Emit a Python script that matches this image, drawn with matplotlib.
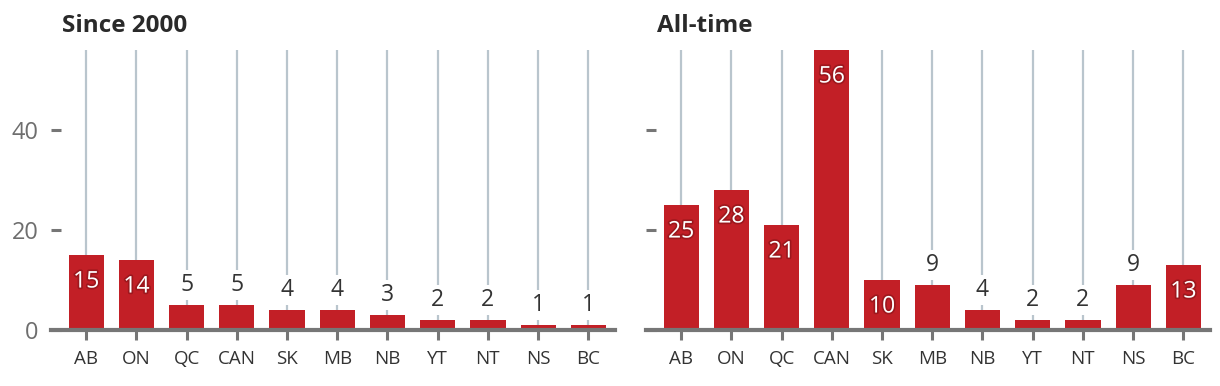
import matplotlib
matplotlib.use('Agg')
import matplotlib.pyplot as plt
import matplotlib.patheffects as pe
import numpy as np

plt.rcParams['font.family'] = ['Open Sans', 'DejaVu Sans']

categories = ['AB', 'ON', 'QC', 'CAN', 'SK', 'MB', 'NB', 'YT', 'NT', 'NS', 'BC']
since_2000 = [15, 14, 5, 5, 4, 4, 3, 2, 2, 1, 1]
all_time = [25, 28, 21, 56, 10, 9, 4, 2, 2, 9, 13]
titles = ['Since 2000', 'All-time']
yticks = [0, 20, 40]

BAR = '#c21f26'
GRID = '#b9c5cd'
AXIS = '#767676'
DARK = '#333333'

W, H = 1220, 386
fig = plt.figure(figsize=(W / 100, H / 100), dpi=100)
ax1 = fig.add_axes([51 / W, 56 / H, 564 / W, 280 / H])
ax2 = fig.add_axes([646 / W, 56 / H, 564 / W, 280 / H])


def draw(ax, values, title, show_labels):
    x = np.arange(len(categories))
    ax.set_xlim(-0.7, 10.53)
    ax.set_ylim(0, 56)
    # grid lines behind the bars
    ax.vlines(x, 0, 56, color=GRID, lw=1.6, zorder=0)
    ax.bar(x, values, width=0.7, color=BAR, zorder=2)

    for xi, v in zip(x, values):
        if v >= 10:
            ax.text(xi, v - 5.3, str(v), ha='center', va='center', color='white',
                    fontsize=16.5, zorder=4,
                    path_effects=[pe.withStroke(linewidth=2.5, foreground='#5a0a0d', alpha=0.35)])
        else:
            ax.text(xi, v + 4, str(v), ha='center', va='center', color=DARK,
                    fontsize=16.5, zorder=3,
                    bbox=dict(boxstyle='square,pad=0.12', fc='white', ec='none'))

    for s in ['top', 'right', 'left']:
        ax.spines[s].set_visible(False)
    ax.spines['bottom'].set_color(AXIS)
    ax.spines['bottom'].set_linewidth(3)
    ax.spines['bottom'].set_zorder(5)

    ax.set_xticks(x)
    ax.set_xticklabels(categories, fontsize=13.5, color=DARK)
    ax.tick_params(axis='x', direction='out', length=7.5, width=2.2, color=AXIS, pad=7)
    ax.set_yticks(yticks)
    ax.tick_params(axis='y', direction='in', length=7.5, width=2.2, color=AXIS, pad=9,
                   labelsize=17, labelcolor='#6e6e6e')
    if not show_labels:
        ax.set_yticklabels([])
        ax.tick_params(axis='y', pad=0)

    ax.text(11 / 564, 1 + 18 / 280, title, transform=ax.transAxes, ha='left',
            va='baseline', fontsize=17.5, fontweight='bold', color='#2a2a2a')


draw(ax1, since_2000, titles[0], True)
draw(ax2, all_time, titles[1], False)

fig.savefig('out.png', dpi=100)
